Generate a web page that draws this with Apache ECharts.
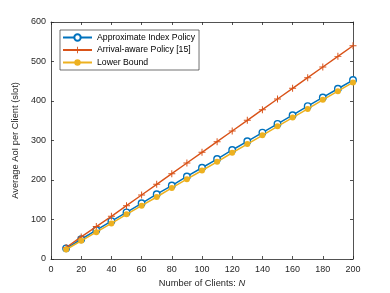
<!DOCTYPE html>
<html><head><meta charset="utf-8">
<script src="https://cdn.jsdelivr.net/npm/echarts@6/dist/echarts.min.js"></script>
<style>html,body{margin:0;padding:0;background:#fff}#c{width:390px;height:293px}</style>
</head><body><div id="c"></div>
<script>
const clients = [10,20,30,40,50,60,70,80,90,100,110,120,130,140,150,160,170,180,190,200];
const approxIndex = [27,50,73,96,118,141,164,186,209,231,253,276,298,320,342,364,387,409,431,453];
const arrivalAware = [29,56,82,108,135,162,189,216,243,270,297,324,351,378,405,432,459,486,513,540];
const lowerBound = [24,46,68,90,113,135,157,180,202,224,246,269,291,313,336,358,380,403,425,447];
const seriesNames = ['Approximate Index Policy','Arrival-aware Policy [15]','Lower Bound'];
const xTitle = 'Number of Clients: ';
const yTitle = 'Average AoI per Client (slot)';

const font = 'Liberation Sans, Arial, sans-serif';
const axisCol = '#262626';
const plus = 'path://M4.3,0H5.7V4.3H10V5.7H5.7V10H4.3V5.7H0V4.3H4.3Z';
const pair = a => a.map((v,i)=>[clients[i], v]);

const chart = echarts.init(document.getElementById('c'));
const baseAxis = {
  axisLine:{show:true,onZero:false,lineStyle:{color:axisCol,width:0.8}},
  axisTick:{show:true,inside:true,length:3,lineStyle:{color:axisCol,width:0.8}},
  splitLine:{show:false}
};
chart.setOption({
  animation:false,
  grid:{left:51,right:37,top:22,bottom:32},
  legend:{
    orient:'vertical', left:60, top:30, itemWidth:29, itemHeight:8, itemGap:3.5,
    padding:[3,4,3,2], borderColor:'#333', borderWidth:0.7, backgroundColor:'#fff',
    textStyle:{fontFamily:font,fontSize:8.7,color:'#000'},
    data:seriesNames
  },
  xAxis:[
    Object.assign({type:'value',min:0,max:200,interval:20,position:'bottom',
      name:'{a|'+xTitle+'}{b|N}',nameLocation:'middle',nameGap:20,
      nameTextStyle:{rich:{a:{fontFamily:font,fontSize:9.3,color:axisCol},b:{fontFamily:font,fontSize:9.3,fontStyle:'italic',color:axisCol}}},
      axisLabel:{fontFamily:font,fontSize:9,color:axisCol,margin:6}},baseAxis),
    Object.assign({type:'value',min:0,max:200,interval:20,position:'top',axisLabel:{show:false}},baseAxis)
  ],
  yAxis:[
    Object.assign({type:'value',min:0,max:600,interval:100,position:'left',
      name:yTitle,nameLocation:'middle',nameGap:22,
      nameTextStyle:{fontFamily:font,fontSize:9.3,color:axisCol},
      axisLabel:{fontFamily:font,fontSize:9,color:axisCol,margin:5}},baseAxis),
    Object.assign({type:'value',min:0,max:600,interval:100,position:'right',axisLabel:{show:false}},baseAxis)
  ],
  series:[
    {name:seriesNames[0],type:'line',data:pair(approxIndex),symbol:'circle',symbolSize:6.5,
      lineStyle:{color:'#0072BD',width:1.5},itemStyle:{color:'#fff',borderColor:'#0072BD',borderWidth:1.4},z:2},
    {name:seriesNames[1],type:'line',data:pair(arrivalAware),symbol:plus,symbolSize:7,
      lineStyle:{color:'#D95319',width:1.4},itemStyle:{color:'#D95319'},z:3},
    {name:seriesNames[2],type:'line',data:pair(lowerBound),symbol:'circle',symbolSize:6,
      lineStyle:{color:'#EDB120',width:1.5},itemStyle:{color:'#EDB120'},z:4}
  ]
});
</script></body></html>
